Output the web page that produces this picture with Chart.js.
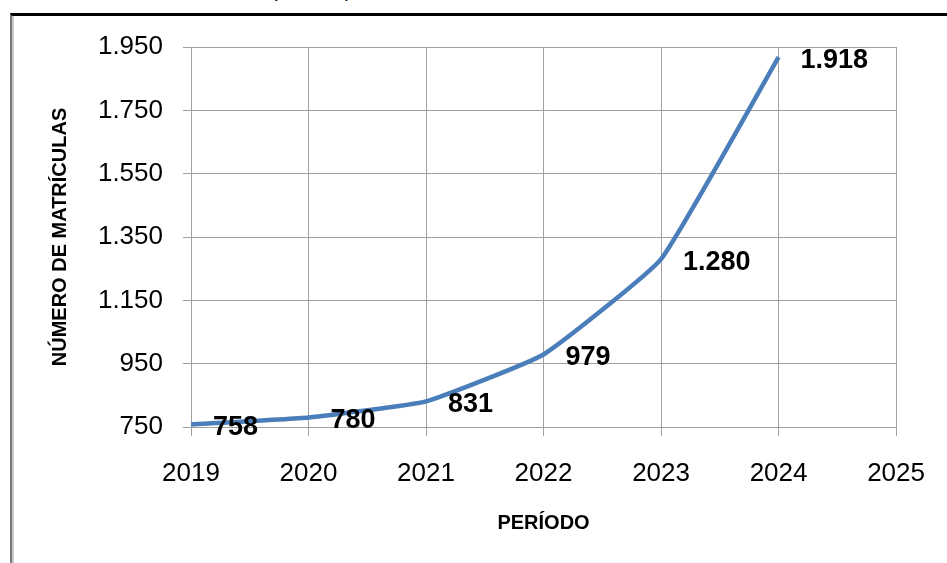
<!DOCTYPE html>
<html>
<head>
<meta charset="utf-8">
<script src="https://cdn.jsdelivr.net/npm/chart.js@4.4.1/dist/chart.umd.min.js"></script>
<style>
  body { margin: 0; background: #fff; overflow: hidden; }
  #frame {
    position: absolute; left: 10px; top: 13px; width: 980px; height: 600px;
    border-top: 3px solid #000; border-left: 2px solid #7a7a7a;
    box-shadow: inset 2px 0 0 #c8c8c8;
  }
  .paren {
    position: absolute; top: -22px; font: 20px "Liberation Sans", Arial, sans-serif;
    line-height: 24px; color: #000;
  }
  #chart { position: absolute; left: 0; top: 0; }
</style>
</head>
<body>
<div class="paren" style="left:271px">(</div>
<div class="paren" style="left:345px">)</div>
<div id="frame"></div>
<canvas id="chart" width="947" height="563"></canvas>
<script>
// chart data
const years = [2019, 2020, 2021, 2022, 2023, 2024];
const enrollments = [758, 780, 831, 979, 1280, 1918];
const yTicks = [750, 950, 1150, 1350, 1550, 1750, 1950];
const xTicks = [2019, 2020, 2021, 2022, 2023, 2024, 2025];

const FONT = '"Liberation Sans", Arial, sans-serif';

// 1950 -> "1.950"
function fmt(v) {
  if (v >= 1000) return Math.floor(v / 1000) + '.' + String(v % 1000).padStart(3, '0');
  return String(v);
}

// value labels next to each point
const valueLabels = {
  id: 'valueLabels',
  afterDatasetsDraw(chart) {
    const ctx = chart.ctx;
    const meta = chart.getDatasetMeta(0);
    ctx.save();
    ctx.font = 'bold 27px ' + FONT;
    ctx.fillStyle = '#000';
    ctx.textAlign = 'left';
    ctx.textBaseline = 'middle';
    meta.data.forEach((pt, i) => {
      ctx.fillText(fmt(enrollments[i]), pt.x + 22, pt.y + 3);
    });
    ctx.restore();
  }
};

new Chart(document.getElementById('chart'), {
  type: 'line',
  data: {
    datasets: [{
      data: years.map((y, i) => ({ x: y, y: enrollments[i] })),
      borderColor: '#4A7EBB',
      borderWidth: 4.5,
      pointRadius: 0,
      tension: 0.12,
      fill: false
    }]
  },
  options: {
    responsive: false,
    animation: false,
    layout: { padding: { top: 47, right: 46, left: 0, bottom: 0 } },
    plugins: {
      legend: { display: false },
      tooltip: { enabled: false }
    },
    scales: {
      x: {
        type: 'linear',
        min: xTicks[0],
        max: xTicks[xTicks.length - 1],
        afterBuildTicks: (s) => { s.ticks = xTicks.map(v => ({ value: v })); },
        afterFit: (s) => { s.height = 136; },
        ticks: {
          color: '#000',
          font: { family: FONT, size: 26 },
          padding: 22,
          callback: (v) => String(v)
        },
        grid: { color: '#a0a0a0', lineWidth: 1, tickLength: 9 },
        border: { color: '#a0a0a0' },
        title: {
          display: true,
          text: 'PERÍODO',
          color: '#000',
          font: { family: FONT, size: 20, weight: 'bold' },
          padding: { top: 0, bottom: 28 }
        }
      },
      y: {
        min: yTicks[0],
        max: yTicks[yTicks.length - 1],
        afterBuildTicks: (s) => { s.ticks = yTicks.map(v => ({ value: v })); },
        afterFit: (s) => { s.width = 191; },
        ticks: {
          color: '#000',
          font: { family: FONT, size: 26 },
          padding: 20,
          callback: (v) => fmt(v)
        },
        grid: { color: '#a0a0a0', lineWidth: 1, tickLength: 8 },
        border: { color: '#a0a0a0' },
        title: {
          display: true,
          text: 'NÚMERO DE MATRÍCULAS',
          color: '#000',
          font: { family: FONT, size: 20, weight: 'bold' },
          padding: { top: 48, bottom: 0 }
        }
      }
    }
  },
  plugins: [valueLabels]
});
</script>
</body>
</html>
